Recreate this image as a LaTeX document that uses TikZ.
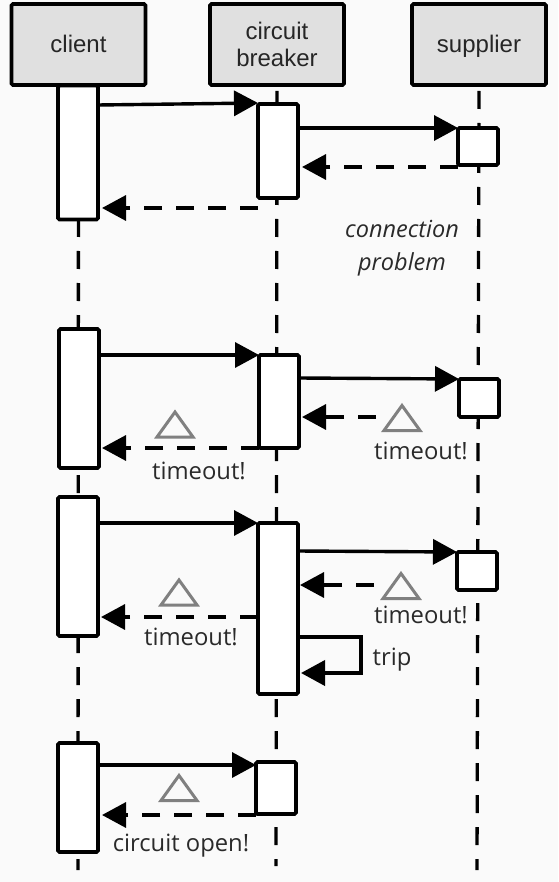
\documentclass[tikz,border=0pt]{standalone}
\usepackage{fontspec}
\setmainfont{Open Sans}
\newfontfamily\headfont{Liberation Sans}
\usetikzlibrary{arrows.meta,backgrounds}
\definecolor{pagebg}{HTML}{FAFAFA}
\definecolor{headfill}{HTML}{E0E0E0}
\definecolor{warngray}{HTML}{808080}
\definecolor{labelink}{HTML}{2A2A2A}
\tikzset{
  x=1pt,y=-1pt,
  headbox/.style={draw=black,fill=headfill,line width=3.8pt,rounded corners=1.5pt,minimum width=134pt,minimum height=81pt,inner sep=0pt,outer sep=0pt,align=center,font=\headfont\fontsize{24}{27}\selectfont,text=black!85},
  oneline/.style={text height=22pt,text depth=5pt},
  actbox/.style={draw=black,fill=white,line width=3.8pt,rounded corners=1.5pt,inner sep=0pt,outer sep=0pt,minimum width=40pt},
  lifeline/.style={draw=black,line width=3.3pt,dash pattern=on 18pt off 14pt,dash phase=26pt},
  callarrow/.style={draw=black,line width=3.4pt,-{Triangle[length=24pt,width=25pt]}},
  backarrow/.style={draw=black,line width=3.4pt,dash pattern=on 18pt off 14pt,-{Triangle[length=24pt,width=25pt]}},
  warnmark/.style={draw=warngray,line width=3pt,fill=none,miter limit=10},
  msg/.style={inner sep=0pt,text=labelink,text height=16pt,text depth=2pt,font=\fontsize{23.8}{27}\selectfont},
}
\newcommand{\warntri}[2]{\draw[warnmark] (#1-18,#2+12.5) -- (#1,#2-12.5) -- (#1+18,#2+12.5) -- cycle;}
\begin{document}
\begin{tikzpicture}
\useasboundingbox (0,0) rectangle (558,882);
% heads
\node[headbox,oneline] (hc) at (78.5,44.5) {client};
\node[headbox] (hb) at (277,44.5) {circuit\\[0pt]breaker};
\node[headbox,oneline] (hs) at (479,44.5) {supplier};
% activations
\node[actbox,minimum height=134pt] (a1) at (78,152.5) {};
\node[actbox,minimum height=94pt]  (b1) at (278,151) {};
\node[actbox,minimum height=37pt]  (s1) at (478,146.5) {};
\node[actbox,minimum height=139pt] (a2) at (79,398.5) {};
\node[actbox,minimum height=93pt]  (b2) at (279,401.5) {};
\node[actbox,minimum height=38pt]  (s2) at (479,398) {};
\node[actbox,minimum height=139pt] (a3) at (78,566.5) {};
\node[actbox,minimum height=171pt] (b3) at (278,608.5) {};
\node[actbox,minimum height=38pt]  (s3) at (477,571) {};
\node[actbox,minimum height=109pt] (a4) at (78,797.5) {};
\node[actbox,minimum height=52pt]  (b4) at (276,788) {};
% lifelines
\coordinate (endc) at (78,870);
\coordinate (endb) at (276,866);
\coordinate (ends) at (477,870);
\begin{pgfonlayer}{background}
\fill[pagebg] (0,0) rectangle (558,882);
\draw[lifeline] (hc.south) -- (endc);
\draw[lifeline] (hb.south) -- (endb);
\draw[lifeline] (hs.south) -- (ends);
\end{pgfonlayer}
% free ends of the timed-out replies
\coordinate (r2) at (376,417);
\coordinate (r3) at (374,585);
% row 1
\draw[callarrow] (a1.east |- 0,105) -- (b1.west |- 0,103);
\draw[callarrow] (b1.east |- 0,128) -- (s1.west |- 0,128);
\draw[backarrow] (s1.west |- 0,167) -- (302,167);
\draw[backarrow] (b1.west |- 0,208) -- (102,208);
% row 2
\draw[callarrow] (a2.east |- 0,355) -- (b2.west |- 0,355);
\draw[callarrow] (b2.east |- 0,378) -- (s2.west |- 0,379);
\draw[backarrow] (r2) -- (302,417);
\draw[backarrow] (b2.west |- 0,448) -- (102,448);
% row 3
\draw[callarrow] (a3.east |- 0,523) -- (b3.west |- 0,523);
\draw[callarrow] (b3.east |- 0,551) -- (s3.west |- 0,552);
\draw[backarrow] (r3) -- (300,585);
\draw[backarrow] (b3.west |- 0,617) -- (101,617);
% trip loop
\coordinate (tripr) at (361,637);
\draw[callarrow,line width=3.8pt] (b3.east |- 0,637) -- (tripr) -- (tripr |- 0,673) -- (301,673);
% row 4
\draw[callarrow] (a4.east |- 0,765) -- (b4.west |- 0,765);
\draw[backarrow] (b4.west |- 0,815) -- (102,815);
% warning triangles
\warntri{175}{424.5}
\warntri{402}{418}
\warntri{179}{592.5}
\warntri{401}{586}
\warntri{179}{788}
% labels
\node[msg,font=\itshape\fontsize{23.5}{27}\selectfont] (l1) at (402,231) {connection};
\node[msg,font=\itshape\fontsize{23.5}{27}\selectfont] (l2) at (402,264) {problem};
\node[msg] (t1) at (199,472) {timeout!};
\node[msg] (t2) at (421,452) {timeout!};
\node[msg] (t3) at (191,638) {timeout!};
\node[msg] (t4) at (421,616) {timeout!};
\node[msg] (t5) at (392,658) {trip};
\node[msg] (t6) at (181,844.5) {circuit open!};
\end{tikzpicture}
\end{document}
